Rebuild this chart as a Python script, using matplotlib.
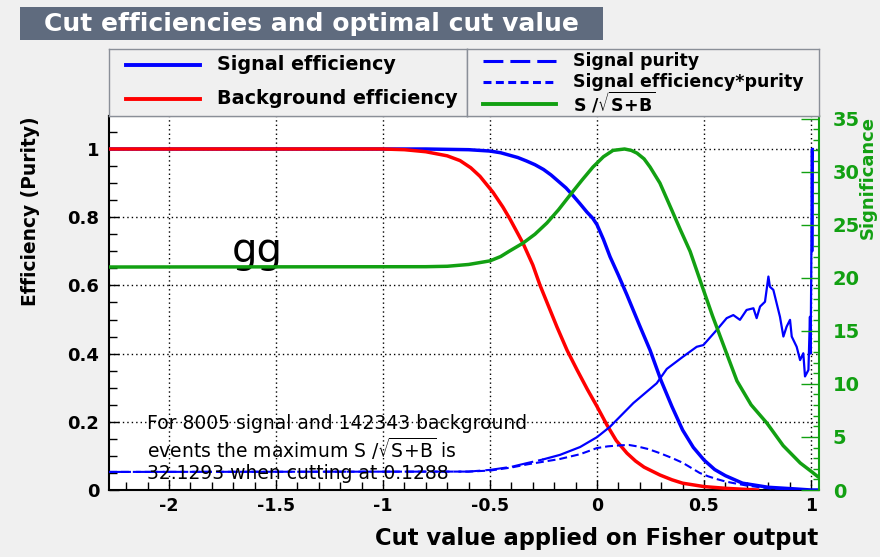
import matplotlib
matplotlib.use("Agg")
import matplotlib.pyplot as plt
from matplotlib.ticker import MultipleLocator
from matplotlib.patches import Rectangle
from matplotlib.lines import Line2D

plt.rcParams['font.family'] = ['DejaVu Sans']
plt.rcParams['axes.unicode_minus'] = False
plt.rcParams['mathtext.fontset'] = 'dejavusans'

# ---------------- data ----------------
sig_eff_x = [-2.28, -0.8, -0.7, -0.6, -0.5, -0.45, -0.41, -0.37, -0.33, -0.29, -0.25, -0.215, -0.18,
             -0.145, -0.11, -0.08, -0.047, -0.02, 0.0, 0.03, 0.061, 0.1, 0.14, 0.2, 0.248, 0.3, 0.35,
             0.4, 0.45, 0.5, 0.55, 0.6, 0.68, 0.8, 0.93, 1.0, 1.037]
sig_eff_y = [1.0, 1.0, 0.999, 0.998, 0.994, 0.989, 0.982, 0.975, 0.965, 0.954, 0.94, 0.924, 0.905,
             0.886, 0.862, 0.84, 0.815, 0.797, 0.778, 0.735, 0.684, 0.63, 0.572, 0.481, 0.41, 0.32, 0.245,
             0.176, 0.125, 0.088, 0.06, 0.042, 0.02, 0.008, 0.003, 0.0, 0.0]

bkg_eff_x = [-2.28, -1.0, -0.9, -0.8, -0.7, -0.64, -0.59, -0.547, -0.486, -0.44, -0.407, -0.346, -0.30,
             -0.266, -0.187, -0.14, -0.093, -0.045, 0.0, 0.047, 0.09, 0.14, 0.18, 0.22, 0.294, 0.35,
             0.4, 0.5, 0.6, 0.75]
bkg_eff_y = [1.0, 1.0, 0.998, 0.992, 0.98, 0.966, 0.945, 0.92, 0.873, 0.83, 0.795, 0.724, 0.66,
             0.60, 0.478, 0.41, 0.352, 0.295, 0.245, 0.19, 0.145, 0.108, 0.085, 0.067, 0.044, 0.03,
             0.02, 0.01, 0.005, 0.0]

purity_x = [-2.28, -0.6, -0.5, -0.4, -0.327, -0.25, -0.173, -0.079, 0.0, 0.06, 0.17, 0.279, 0.326, 0.4,
            0.466, 0.497, 0.559, 0.606, 0.637, 0.668, 0.699, 0.731, 0.746, 0.762, 0.785, 0.801, 0.808,
            0.824, 0.855, 0.871, 0.886, 0.902, 0.91, 0.933, 0.949, 0.964, 0.972, 0.988, 0.995, 0.998,
            1.001, 1.004, 1.006, 1.009]
purity_y = [0.053, 0.054, 0.059, 0.068, 0.079, 0.09, 0.103, 0.126, 0.155, 0.185, 0.255, 0.313, 0.355, 0.39,
            0.42, 0.425, 0.469, 0.504, 0.513, 0.499, 0.528, 0.533, 0.504, 0.538, 0.552, 0.626, 0.596,
            0.587, 0.508, 0.45, 0.479, 0.499, 0.45, 0.42, 0.381, 0.401, 0.333, 0.352, 0.508, 0.40,
            0.62, 1.0, 0.7, 1.0]

effpur_x = [-2.28, -0.6, -0.5, -0.4, -0.327, -0.25, -0.173, -0.079, 0.0, 0.05, 0.107, 0.15, 0.187, 0.24,
            0.294, 0.35, 0.4, 0.44, 0.48, 0.52, 0.56, 0.6, 0.64, 0.7, 0.8, 0.9, 1.0]
effpur_y = [0.053, 0.054, 0.057, 0.066, 0.075, 0.083, 0.091, 0.105, 0.123, 0.128, 0.131, 0.132, 0.128, 0.12,
            0.108, 0.094, 0.08, 0.065, 0.05, 0.04, 0.032, 0.025, 0.02, 0.013, 0.005, 0.002, 0.0]

signif_x = [-2.28, -0.8, -0.7, -0.6, -0.5, -0.45, -0.41, -0.346, -0.29, -0.234, -0.18, -0.126, -0.07,
            -0.019, 0.03, 0.075, 0.1288, 0.16, 0.187, 0.22, 0.248, 0.294, 0.35, 0.39, 0.435, 0.49, 0.54,
            0.6, 0.654, 0.72, 0.794, 0.87, 0.95, 1.0, 1.03]
signif_y = [21.01, 21.04, 21.08, 21.25, 21.59, 22.0, 22.5, 23.26, 24.1, 25.16, 26.4, 27.79, 29.2,
            30.43, 31.4, 32.0, 32.13, 32.0, 31.74, 31.2, 30.43, 28.92, 26.35, 24.5, 22.49, 19.28, 16.39,
            13.17, 10.28, 8.03, 6.30, 4.18, 2.54, 1.77, 1.29]

max_signif = 32.1293
x_ticks = [-2, -1.5, -1, -0.5, 0, 0.5, 1]
x_ticklabels = ['-2', '-1.5', '-1', '-0.5', '0', '0.5', '1']
y_ticks = [0, 0.2, 0.4, 0.6, 0.8, 1.0]
y_ticklabels = ['0', '0.2', '0.4', '0.6', '0.8', '1']

BLUE = '#0000ff'
RED = '#ff0000'
GREEN = '#12a012'
BG = '#f0f0f0'

W, H = 880, 557
fig = plt.figure(figsize=(8.8, 5.57), dpi=100, facecolor=BG)

def fx(px):
    return px / W

def fy(py):
    return 1 - py / H

# title box
fig.patches.append(Rectangle((fx(20), fy(40)), 583 / W, 33 / H, transform=fig.transFigure,
                             facecolor='#5f6b7e', edgecolor='none'))
fig.text(fx(311.5), fy(23.5), 'Cut efficiencies and optimal cut value', color='white',
         fontsize=18, fontweight='bold', ha='center', va='center')

# main axes
ax = fig.add_axes([fx(109), fy(490), (819 - 109) / W, (490 - 116) / H])
ax.set_facecolor('white')
ax.set_xlim(-2.2804, 1.0374)
ax.set_ylim(0, 1.0968)

ax.set_xticks(x_ticks)
ax.set_xticklabels(x_ticklabels)
ax.set_yticks(y_ticks)
ax.set_yticklabels(y_ticklabels)
ax.xaxis.set_minor_locator(MultipleLocator(0.1))
ax.yaxis.set_minor_locator(MultipleLocator(0.05))
ax.tick_params(axis='both', which='both', direction='in', top=False, right=False, color='black')
ax.tick_params(axis='x', which='major', length=7, width=1, labelsize=12.5, pad=5)
ax.tick_params(axis='x', which='minor', length=5.5, width=1)
ax.tick_params(axis='y', which='major', length=7, width=1, labelsize=13, pad=7)
ax.tick_params(axis='y', which='minor', length=6, width=1)
for lab in ax.get_xticklabels() + ax.get_yticklabels():
    lab.set_fontweight('bold')
ax.grid(True, which='major', color='black', linestyle=(0, (1, 2.2)), linewidth=1.0)
ax.set_axisbelow(True)
for s in ['left', 'bottom', 'top']:
    ax.spines[s].set_linewidth(1.5)
    ax.spines[s].set_color('black')
ax.spines['right'].set_visible(False)

# curves
ax.plot(sig_eff_x, sig_eff_y, color=BLUE, lw=2.5, solid_joinstyle='round', zorder=3)
ax.plot(bkg_eff_x, bkg_eff_y, color=RED, lw=2.5, solid_joinstyle='round', zorder=3)
split = 6
ax.plot(purity_x[:split], purity_y[:split], color=BLUE, lw=1.5, linestyle=(0, (10.5, 2.4)), zorder=3)
ax.plot(purity_x[split - 1:], purity_y[split - 1:], color=BLUE, lw=1.6, zorder=3)
ax.plot(effpur_x, effpur_y, color=BLUE, lw=1.5, linestyle=(0, (3.8, 1.9)), zorder=3)

# right axis (significance)
ax2 = ax.twinx()
ax2.set_ylim(0, 1.0968 * max_signif)
ax2.plot(signif_x, signif_y, color=GREEN, lw=2.5, solid_joinstyle='round', zorder=3)
ax2.yaxis.set_major_locator(MultipleLocator(5))
ax2.yaxis.set_minor_locator(MultipleLocator(1))
ax2.tick_params(axis='y', which='major', direction='in', length=13, width=1, colors=GREEN,
                labelsize=14, pad=10)
ax2.tick_params(axis='y', which='minor', direction='in', length=4.5, width=1, colors=GREEN)
for lab in ax2.get_yticklabels():
    lab.set_fontweight('bold')
for s in ['left', 'top', 'bottom']:
    ax2.spines[s].set_visible(False)
ax2.spines['right'].set_color(GREEN)
ax2.spines['right'].set_linewidth(1.5)

# axis titles
fig.text(fx(818), fy(538), 'Cut value applied on Fisher output', fontsize=16.3,
         fontweight='bold', ha='right', va='center')
fig.text(fx(31), fy(116), 'Efficiency (Purity)', fontsize=13.4, fontweight='bold',
         rotation=90, ha='center', va='top')
fig.text(fx(868), fy(116), 'Significance', fontsize=13, fontweight='bold', color=GREEN,
         rotation=90, ha='center', va='top')

# annotations
ax.text(-1.7056, 0.669, 'gg', fontsize=29, ha='left', va='baseline', zorder=5)
fig.text(fx(147), fy(414),
         'For 8005 signal and 142343 background\n'
         r'events the maximum S /$\sqrt{\mathrm{S\!+\!B}}$ is' '\n'
         '32.1293 when cutting at 0.1288',
         fontsize=13.5, ha='left', va='top', linespacing=1.12, color='black')

# legends (drawn as two boxes)
def legend_box(x0, x1):
    lg = fig.add_axes([fx(x0), fy(116), (x1 - x0) / W, (116 - 49) / H])
    lg.set_xlim(x0, x1)
    lg.set_ylim(116, 49)
    lg.set_facecolor(BG)
    lg.set_xticks([])
    lg.set_yticks([])
    for s in lg.spines.values():
        s.set_color('#8a8f98')
        s.set_linewidth(1.0)
    return lg

lgL = legend_box(109, 467)
lgL.add_line(Line2D([126, 200], [65, 65], color=BLUE, lw=2.8))
lgL.add_line(Line2D([126, 200], [99, 99], color=RED, lw=2.8))
lgL.text(217, 65, 'Signal efficiency', fontsize=13.8, fontweight='bold', va='center', ha='left')
lgL.text(217, 98, 'Background efficiency', fontsize=13.8, fontweight='bold', va='center', ha='left')

lgR = legend_box(467, 819)
lgR.add_line(Line2D([483, 556], [61, 61], color=BLUE, lw=2.2, linestyle=(0, (6.5, 2.3))))
lgR.add_line(Line2D([483, 556], [82, 82], color=BLUE, lw=2.2, linestyle=(0, (2.6, 1.45))))
lgR.add_line(Line2D([483, 556], [104, 104], color=GREEN, lw=2.8))
lgR.text(573, 61, 'Signal purity', fontsize=12.5, fontweight='bold', va='center', ha='left')
lgR.text(573, 82, 'Signal efficiency*purity', fontsize=12.5, fontweight='bold', va='center', ha='left')
lgR.text(573, 103, r'S /$\sqrt{\mathbf{S\!+\!B}}$', fontsize=12.5, fontweight='bold', va='center', ha='left')

fig.savefig('out.png', dpi=100, facecolor=BG)
